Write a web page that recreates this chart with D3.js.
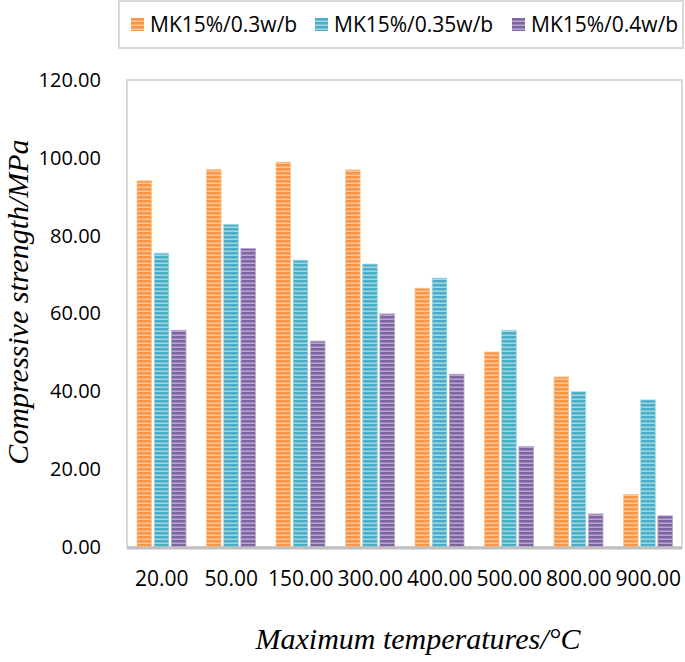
<!DOCTYPE html>
<meta charset="utf-8">
<html>
<head>
    <script src="https://cdn.jsdelivr.net/npm/d3@7"></script>
    <style>
        html, body { margin: 0; padding: 0; background: #fff; }
    </style>
</head>
<body>
<svg id="svg"></svg>
<script>
    // data
    var temperatures = ["20.00", "50.00", "150.00", "300.00", "400.00", "500.00", "800.00", "900.00"]
    var seriesNames = ["MK15%/0.3w/b", "MK15%/0.35w/b", "MK15%/0.4w/b"]
    var wb03 = [94.1, 97.0, 98.9, 96.9, 66.5, 50.1, 43.7, 13.5]
    var wb035 = [75.5, 82.9, 73.7, 72.7, 69.1, 55.7, 39.9, 37.8]
    var wb04 = [55.7, 76.7, 52.9, 59.9, 44.4, 25.8, 8.5, 8.0]
    var yTicks = [0, 20, 40, 60, 80, 100, 120]

    var colors = ["#F79646", "#4BACC6", "#8064A2"]
    var lights = ["#FAC597", "#A3D6E3", "#B8A6CE"]
    var values = [wb03, wb035, wb04]

    var width = 685, height = 662
    var svg = d3.select("#svg").attr("width", width).attr("height", height)

    // striped fills
    var defs = svg.append("defs")
    colors.forEach(function (c, i) {
        var p = defs.append("pattern")
            .attr("id", "stripe" + i)
            .attr("patternUnits", "userSpaceOnUse")
            .attr("width", 8).attr("height", 4)
        p.append("rect").attr("width", 8).attr("height", 4).attr("fill", c)
        p.append("rect").attr("y", 2.5).attr("width", 8).attr("height", 1.5).attr("fill", lights[i])
    })

    var plotLeft = 127, plotRight = 682, plotTop = 80, plotBottom = 547

    var y = d3.scaleLinear().domain([0, 120]).range([plotBottom, plotTop])
    var x = d3.scaleBand().domain(temperatures).range([plotLeft, plotLeft + 556]).padding(0)
    var xs = d3.scaleBand().domain(d3.range(3)).range([10, 59]).paddingInner(0.15).paddingOuter(0)

    // plot frame
    svg.append("rect")
        .attr("x", plotLeft).attr("y", plotTop)
        .attr("width", plotRight - plotLeft).attr("height", plotBottom - plotTop)
        .attr("fill", "none").attr("stroke", "#d9d9d9").attr("stroke-width", 2)

    // bars
    var groups = svg.append("g").selectAll("g")
        .data(temperatures)
        .enter().append("g")
        .attr("transform", function (d) { return "translate(" + x(d) + ",0)" })

    groups.selectAll("rect")
        .data(function (d, i) { return values.map(function (v, s) { return { s: s, v: v[i] } }) })
        .enter().append("rect")
        .attr("x", function (d) { return xs(d.s) })
        .attr("width", xs.bandwidth())
        .attr("y", function (d) { return y(d.v) })
        .attr("height", function (d) { return plotBottom - y(d.v) })
        .attr("fill", function (d) { return "url(#stripe" + d.s + ")" })
        .attr("stroke", function (d) { return lights[d.s] })
        .attr("stroke-width", 0.8)

    // x axis line
    svg.append("line")
        .attr("x1", plotLeft).attr("x2", plotRight)
        .attr("y1", plotBottom + 1).attr("y2", plotBottom + 1)
        .attr("stroke", "#bfbfbf").attr("stroke-width", 3)

    // y axis
    var yAxis = svg.append("g")
        .attr("transform", "translate(101,0)")
        .call(d3.axisLeft(y).tickValues(yTicks).tickSize(0).tickPadding(0)
            .tickFormat(function (d) { return d3.format(".2f")(d) }))
    yAxis.select(".domain").remove()
    yAxis.selectAll("text")
        .attr("font-family", "Open Sans").attr("font-size", 20).attr("fill", "#000")

    // x axis labels
    var xAxis = svg.append("g")
        .attr("transform", "translate(0," + (plotBottom + 24) + ")")
        .call(d3.axisBottom(x).tickSize(0).tickPadding(0))
    xAxis.select(".domain").remove()
    xAxis.selectAll("text")
        .attr("font-family", "Open Sans").attr("font-size", 21).attr("fill", "#000")

    // axis titles
    svg.append("text")
        .attr("transform", "translate(28,302) rotate(-90)")
        .attr("text-anchor", "middle")
        .attr("font-family", "Liberation Serif").attr("font-style", "italic")
        .attr("font-size", 30)
        .text("Compressive strength/MPa")

    svg.append("text")
        .attr("x", 418).attr("y", 649)
        .attr("text-anchor", "middle")
        .attr("font-family", "Liberation Serif").attr("font-style", "italic")
        .attr("font-size", 30)
        .text("Maximum temperatures/\u00B0C")

    // legend
    svg.append("rect")
        .attr("x", 119).attr("y", 1).attr("width", 564).attr("height", 47)
        .attr("fill", "#fff").attr("stroke", "#d9d9d9").attr("stroke-width", 2)
    var legendX = [131, 315, 512]
    var items = svg.append("g").selectAll("g")
        .data(seriesNames)
        .enter().append("g")
        .attr("transform", function (d, i) { return "translate(" + legendX[i] + ",18)" })
    items.append("rect")
        .attr("width", 13).attr("height", 13)
        .attr("fill", function (d, i) { return "url(#stripe" + i + ")" })
    items.append("text")
        .attr("x", 19).attr("y", 14)
        .attr("font-family", "Open Sans").attr("font-size", 21)
        .text(function (d) { return d })
</script>
</body>
</html>
